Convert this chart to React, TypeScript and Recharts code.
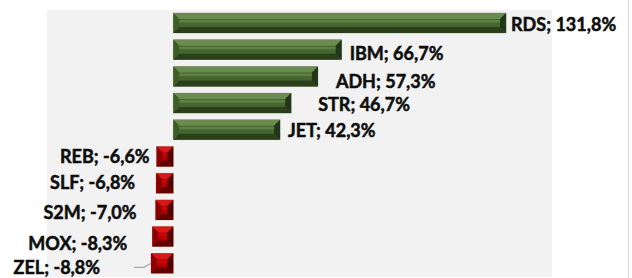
import { BarChart, Bar, XAxis, YAxis, CartesianGrid, LabelList, Cell } from "recharts"

const TICKERS = ["RDS", "IBM", "ADH", "STR", "JET", "REB", "SLF", "S2M", "MOX", "ZEL"]
const RETURNS = [131.8, 66.7, 57.3, 46.7, 42.3, -6.6, -6.8, -7.0, -8.3, -8.8]

// labels that were dragged by hand in the original: [dx, dy, leader line]
const NUDGE: Record<string, [number, number, boolean]> = {
  RDS: [0, 1, false],
  IBM: [3, 3, false],
  ADH: [13, 5, false],
  STR: [22, 1, false],
  JET: [3, 0, false],
  REB: [-2, -1, false],
  SLF: [-16, -1, false],
  S2M: [-14, 2, false],
  MOX: [-20, 6, false],
  ZEL: [-46, 4, true],
}

const GREEN = { top: "#6b8c50", mid: "#45662f", hi: "#5c7f43", bottom: "#2a3f1a", left: "#3d5c27", right: "#22361a" }
const RED = { top: "#d81818", mid: "#b40000", hi: "#c80808", bottom: "#640000", left: "#8c0000", right: "#540000" }

const data = TICKERS.map((name, i) => ({ name, value: RETURNS[i] }))

const fmt = (v: number) => v.toFixed(1).replace(".", ",") + "%"

function BevelBar(props: any) {
  const { x, y, width, height, value } = props
  const l = Math.min(x, x + width)
  const r = Math.max(x, x + width)
  const t = y
  const b = y + height
  const c = value >= 0 ? GREEN : RED
  const s = Math.min(6, (r - l) / 2 - 1, height / 2 - 1)
  return (
    <g>
      <rect x={l} y={t} width={r - l} height={height} fill={c.mid} stroke="#9ea594" strokeWidth={0.6} />
      <polygon points={`${l},${t} ${r},${t} ${r - s},${t + s} ${l + s},${t + s}`} fill={c.top} />
      <polygon points={`${l},${b} ${r},${b} ${r - s},${b - s} ${l + s},${b - s}`} fill={c.bottom} />
      <polygon points={`${l},${t} ${l + s},${t + s} ${l + s},${b - s} ${l},${b}`} fill={c.left} />
      <polygon points={`${r},${t} ${r - s},${t + s} ${r - s},${b - s} ${r},${b}`} fill={c.right} />
      {r - l - 2 * s > 2 && (
        <rect x={l + s} y={t + s + 1} width={r - l - 2 * s} height={Math.max(1, (height - 2 * s) / 3)} fill={c.hi} />
      )}
    </g>
  )
}

function BarLabel(props: any) {
  const { x, y, width, height, value, index } = props
  const name = TICKERS[index]
  const [dx, dy, leader] = NUDGE[name] ?? [0, 0, false]
  const l = Math.min(x, x + width)
  const r = Math.max(x, x + width)
  const cy = y + height / 2 + dy
  const pos = value >= 0
  const tx = pos ? r + 5 + dx : l - 5 + dx
  return (
    <g>
      {leader && (
        <polyline
          points={`${tx + 34},${cy} ${tx + 44},${cy} ${l},${y + height / 2}`}
          fill="none"
          stroke="#a6a6a6"
          strokeWidth={1.2}
        />
      )}
      <text
        x={tx}
        y={cy}
        textAnchor={pos ? "start" : "end"}
        dominantBaseline="central"
        fontFamily="Lato, sans-serif"
        fontWeight="bold"
        fontSize={18}
        fill="#0d0d0d"
        stroke="#0d0d0d"
        strokeWidth={0.5}
      >
        {`${name}; ${fmt(value)}`}
      </text>
    </g>
  )
}

export default function App() {
  return (
    <div style={{ position: "absolute", left: 0, top: 0, width: 632, height: 278, background: "#fff" }}>
      <div style={{ position: "absolute", left: 628, top: 0, width: 1, height: 278, background: "#d9d9d9" }} />
      <BarChart
        width={632}
        height={278}
        data={data}
        layout="vertical"
        margin={{ top: 10, right: 80, bottom: 1, left: 47 }}
      >
        <CartesianGrid fill="#f2f2f2" stroke="none" horizontal={false} vertical={false} />
        <XAxis type="number" domain={[-50, 150]} hide />
        <YAxis type="category" dataKey="name" hide />
        <Bar dataKey="value" barSize={20} shape={<BevelBar />} isAnimationActive={false}>
          {data.map((d) => (
            <Cell key={d.name} />
          ))}
          <LabelList dataKey="value" content={<BarLabel />} />
        </Bar>
      </BarChart>
    </div>
  )
}
